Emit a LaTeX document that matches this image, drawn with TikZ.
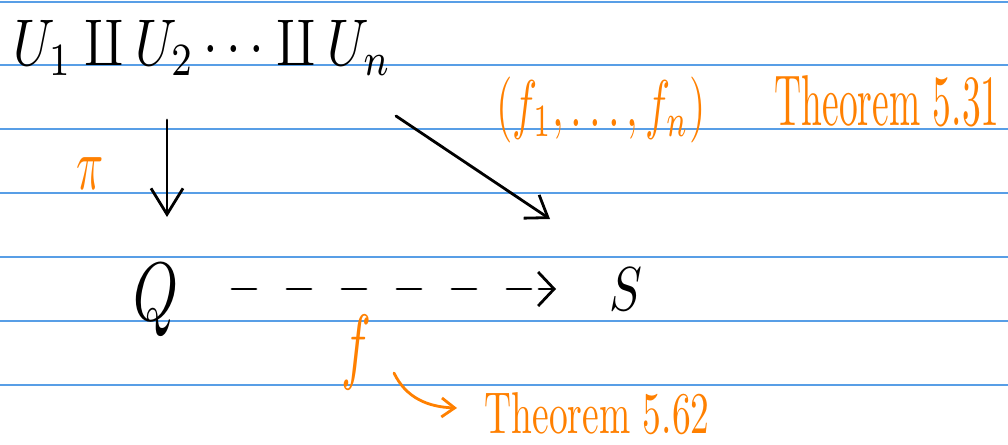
\documentclass[tikz,border=0pt]{standalone}
\usepackage{fontspec}
\usepackage{amsmath}
\usetikzlibrary{arrows.meta}
\definecolor{ruled}{RGB}{88,158,230}
\definecolor{ink}{RGB}{255,128,0}
\tikzset{
  ruleline/.style={ruled, line width=1.6pt},
  blackarrow/.style={black, line width=2.8pt, line cap=round, line join=round},
  downtip/.style={-{Straight Barb[length=26pt,width=32pt,line width=2.8pt]}},
  diagtip/.style={-{Straight Barb[length=20pt,width=28pt,line width=2.8pt]}},
  dashtip/.style={-{Straight Barb[length=16pt,width=34pt,line width=2.8pt]}},
  dasharrow/.style={black, line width=2.8pt, line cap=round, dash pattern=on 24pt off 31pt},
  orangearrow/.style={ink, line width=2.8pt, line cap=round, -{Straight Barb[length=13pt,width=19pt,line width=2.8pt]}},
  blacktext/.style={black, inner sep=0pt},
  orangetext/.style={ink, inner sep=0pt},
}
\begin{document}
\begin{tikzpicture}[x=1pt,y=-1pt]
\useasboundingbox (0,0) rectangle (1008,444);
\fill[white] (0,0) rectangle (1008,444);
\foreach \yy in {2,65,129,193,257,321,385}
  \draw[ruleline] (0,\yy) -- (1008,\yy);

\node[blacktext, anchor=base west, xscale=5.25, yscale=6.6] (top) at (12,66)
  {$U_1 \amalg U_2 \cdots \amalg U_n$};
\node[orangetext, xscale=4.5, yscale=7.4] (pi) at (90,174) {$\pi$};
\node[blacktext, anchor=base, xscale=5.7, yscale=8.3] (Q) at (156,320) {$Q$};
\node[blacktext, anchor=base, xscale=4.9, yscale=6.2] (S) at (626,310) {$S$};
\node[orangetext, xscale=4.2, yscale=6.6] (fs) at (601,110) {$(f_1,\dots,f_n)$};
\node[orangetext, xscale=3.75, yscale=7.2] (thm1) at (887,101) {Theorem 5.31};
\node[orangetext, xscale=5, yscale=8.4] (f) at (356,352) {$f$};
\node[orangetext, xscale=3.75, yscale=5.9] (thm2) at (597,414) {Theorem 5.62};

\coordinate (piA) at (167,120);
\coordinate (piB) at (167,217);
\coordinate (fnA) at (396,116);
\coordinate (fnB) at (550,219);
\coordinate (dA) at (232,289);
\coordinate (dB) at (556,289);
\coordinate (fA) at (394,373);
\coordinate (fB) at (457,408);

\draw[blackarrow, downtip] (piA) -- (piB);
\draw[blackarrow, diagtip] (fnA) -- (fnB);
\draw[dasharrow] (dA) -- ([xshift=-18pt]dB);
\draw[blackarrow, dashtip] ([xshift=-17pt]dB) -- (dB);
\draw[orangearrow] (fA) .. controls (406,398) and (428,407) .. (fB);
\end{tikzpicture}
\end{document}
